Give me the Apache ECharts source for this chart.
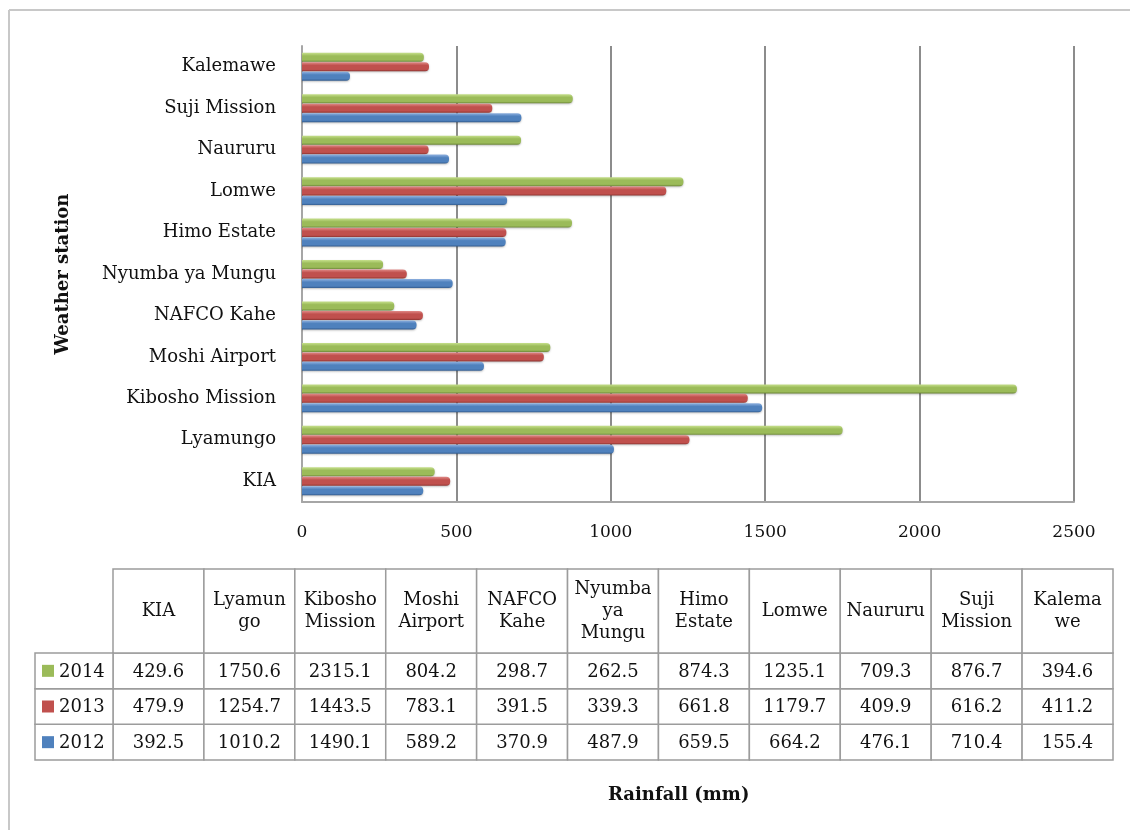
<!DOCTYPE html>
<html>
<head>
<meta charset="utf-8">
<script src="https://cdn.jsdelivr.net/npm/echarts@6/dist/echarts.min.js"></script>
<style>
  html, body { margin: 0; padding: 0; background: #fff; overflow: hidden; }
  #main { width: 1130px; height: 830px; }
</style>
</head>
<body>
<div id="main"></div>
<script>
// weather stations (bottom to top in the bar chart, left to right in the table)
const stations = ['KIA', 'Lyamungo', 'Kibosho Mission', 'Moshi Airport', 'NAFCO Kahe', 'Nyumba ya Mungu',
  'Himo Estate', 'Lomwe', 'Naururu', 'Suji Mission', 'Kalemawe']
// header text of the data table, wrapped like the original
const tableHeaders = ['KIA', 'Lyamun\ngo', 'Kibosho\nMission', 'Moshi\nAirport', 'NAFCO\nKahe', 'Nyumba\nya\nMungu',
  'Himo\nEstate', 'Lomwe', 'Naururu', 'Suji\nMission', 'Kalema\nwe']
const years = ['2012', '2013', '2014']
// rainfall (mm)
const rain2012 = [392.5, 1010.2, 1490.1, 589.2, 370.9, 487.9, 659.5, 664.2, 476.1, 710.4, 155.4]
const rain2013 = [479.9, 1254.7, 1443.5, 783.1, 391.5, 339.3, 661.8, 1179.7, 409.9, 616.2, 411.2]
const rain2014 = [429.6, 1750.6, 2315.1, 804.2, 298.7, 262.5, 874.3, 1235.1, 709.3, 876.7, 394.6]
const xMin = 0
const xMax = 2500
const xStep = 500

const rainByYear = [rain2012, rain2013, rain2014]
const colors = ['#4f81bd', '#c0504d', '#9bbb59']
const lightColors = ['#8fb1e0', '#e08a87', '#c6e08c']
const darkColors = ['#335c8f', '#8f3431', '#6f8a3a']
const serif = '"DejaVu Serif", "Liberation Serif", serif'

const chart = echarts.init(document.getElementById('main'))

// 3D-ish bar look: light top edge, dark bottom edge
function barStyle(i) {
  return {
    color: new echarts.graphic.LinearGradient(0, 0, 0, 1, [
      { offset: 0, color: lightColors[i] },
      { offset: 0.35, color: colors[i] },
      { offset: 0.8, color: colors[i] },
      { offset: 1, color: darkColors[i] }
    ]),
    borderRadius: [0, 4, 4, 0],
    shadowColor: 'rgba(0,0,0,0.25)',
    shadowBlur: 2,
    shadowOffsetY: 1
  }
}

// first series ends up on top of each group, so go 2014 -> 2012
const barSeries = [2, 1, 0].map(i => ({
  name: years[i],
  type: 'bar',
  xAxisIndex: 0,
  yAxisIndex: 0,
  barWidth: 9,
  barGap: '5%',
  itemStyle: barStyle(i),
  data: rainByYear[i]
}))

// table cells: [column, row, value]
const tableData = []
years.forEach((y, r) => {
  stations.forEach((s, c) => {
    tableData.push([c, r, rainByYear[r][c]])
  })
})

const headerH = 84
const keyW = 78
const cellFont = '18px ' + serif
const lineColor = '#9c9c9c'

function renderCell(params, api) {
  const col = api.value(0)
  const row = api.value(1)
  const val = api.value(2)
  const c = api.coord([col, row])
  const s = api.size([1, 1])
  const x0 = c[0] - s[0] / 2
  const y0 = c[1] - s[1] / 2
  const children = [
    { type: 'rect', shape: { x: x0, y: y0, width: s[0], height: s[1] },
      style: { fill: '#fff', stroke: lineColor, lineWidth: 1.5 } },
    { type: 'text', style: { text: val.toFixed(1), x: c[0], y: c[1] + 1, align: 'center',
      verticalAlign: 'middle', font: cellFont, fill: '#111' } }
  ]
  // header cell on top of the 2014 row
  if (row === years.length - 1) {
    children.push(
      { type: 'rect', shape: { x: x0, y: y0 - headerH, width: s[0], height: headerH },
        style: { fill: '#fff', stroke: lineColor, lineWidth: 1.5 } },
      { type: 'text', style: { text: tableHeaders[col], x: c[0], y: y0 - headerH / 2, align: 'center',
        verticalAlign: 'middle', font: cellFont, lineHeight: 22, fill: '#111' } }
    )
  }
  // legend key cell at the left of every row
  if (col === 0) {
    children.push(
      { type: 'rect', shape: { x: x0 - keyW, y: y0, width: keyW, height: s[1] },
        style: { fill: '#fff', stroke: lineColor, lineWidth: 1.5 } },
      { type: 'rect', shape: { x: x0 - keyW + 7, y: c[1] - 6, width: 12, height: 12 },
        style: { fill: colors[row] } },
      { type: 'text', style: { text: years[row], x: x0 - keyW + 24, y: c[1] + 1, align: 'left',
        verticalAlign: 'middle', font: cellFont, fill: '#111' } }
    )
  }
  return { type: 'group', children: children }
}

const option = {
  animation: false,
  backgroundColor: '#fff',
  title: {
    text: 'Rainfall (mm)',
    left: 603,
    top: 781,
    textStyle: { fontFamily: serif, fontSize: 18, fontWeight: 'bold', color: '#111' }
  },
  graphic: [
    // outer frame, only top and left edges are in view
    { type: 'line', z: -10, shape: { x1: 9, y1: 10, x2: 1130, y2: 10 },
      style: { stroke: '#c8c8c8', lineWidth: 2 } },
    { type: 'line', z: -10, shape: { x1: 9, y1: 10, x2: 9, y2: 830 },
      style: { stroke: '#c8c8c8', lineWidth: 2 } }
  ],
  grid: [
    { left: 302, right: 56, top: 46, height: 456 },
    { left: 113, right: 17, top: 653, height: 107 }
  ],
  xAxis: [
    {
      gridIndex: 0,
      type: 'value',
      min: xMin,
      max: xMax,
      interval: xStep,
      axisLine: { show: true, lineStyle: { color: '#a6a6a6', width: 2 } },
      axisTick: { show: false },
      axisLabel: { fontFamily: serif, fontSize: 17, color: '#111', margin: 22,
        formatter: v => String(v) },
      splitLine: { show: true, lineStyle: { color: '#8c8c8c', width: 2 } }
    },
    { gridIndex: 1, type: 'category', data: stations, show: false }
  ],
  yAxis: [
    {
      gridIndex: 0,
      type: 'category',
      data: stations,
      name: 'Weather station',
      nameLocation: 'middle',
      nameGap: 230,
      nameRotate: 90,
      nameTextStyle: { fontFamily: serif, fontSize: 18, fontWeight: 'bold', color: '#111' },
      axisLine: { show: true, lineStyle: { color: '#a6a6a6', width: 2 } },
      axisTick: { show: false },
      axisLabel: { fontFamily: serif, fontSize: 18, color: '#111', margin: 26 }
    },
    { gridIndex: 1, type: 'category', data: years, show: false }
  ],
  series: barSeries.concat([
    {
      type: 'custom',
      xAxisIndex: 1,
      yAxisIndex: 1,
      renderItem: renderCell,
      data: tableData
    }
  ])
}

chart.setOption(option)
</script>
</body>
</html>
